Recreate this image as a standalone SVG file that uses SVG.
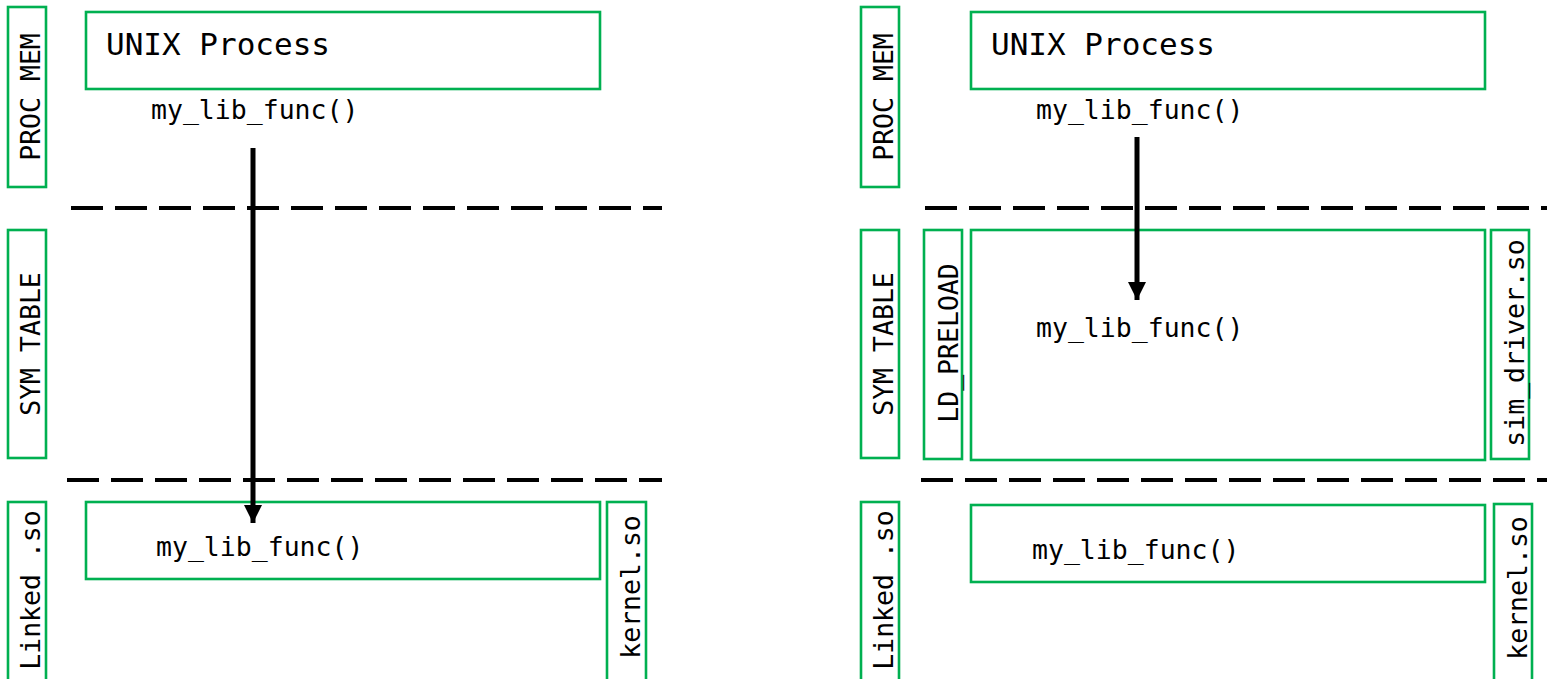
<svg xmlns="http://www.w3.org/2000/svg" width="1547" height="679" viewBox="0 0 1547 679">
  <style>
    .box { fill: none; stroke: #00b050; stroke-width: 2.6; }
    .lbl { font-family: "DejaVu Sans Mono", "Liberation Mono", monospace; font-size: 26.5px; fill: #000; }
    .big { font-size: 31px; }
    .vert { text-anchor: middle; }
    .sep { stroke: #000; stroke-width: 4; stroke-dasharray: 32 12; fill: none; }
    .arrow { stroke: #000; stroke-width: 5; fill: none; marker-end: url(#head); }
  </style>
  <defs>
    <marker id="head" markerUnits="userSpaceOnUse" markerWidth="20" markerHeight="18" refX="18" refY="9" orient="auto">
      <path d="M0,0 L18,9 L0,18 z" fill="#000"/>
    </marker>
  </defs>

  <rect width="1547" height="679" fill="#fff"/>

  <!-- Left: normal linking -->
  <g id="left-proc-mem">
    <rect class="box" x="8" y="7" width="38" height="180"/>
    <text class="lbl vert" transform="translate(40,97) rotate(-90)">PROC MEM</text>
  </g>
  <g id="left-sym-table">
    <rect class="box" x="8" y="230" width="38" height="228"/>
    <text class="lbl vert" transform="translate(40,344) rotate(-90)">SYM TABLE</text>
  </g>
  <g id="left-linked-so">
    <rect class="box" x="8" y="502" width="38" height="180"/>
    <text class="lbl vert" transform="translate(39.5,590) rotate(-90)">Linked .so</text>
  </g>
  <g id="left-unix-process">
    <rect class="box" x="86" y="12" width="514" height="77"/>
    <text class="lbl big" x="106" y="55">UNIX Process</text>
    <text class="lbl" x="151" y="119">my_lib_func()</text>
  </g>
  <g id="left-lib">
    <rect class="box" x="86" y="502" width="514" height="77"/>
    <text class="lbl" x="156" y="556">my_lib_func()</text>
  </g>
  <g id="left-kernel">
    <rect class="box" x="607" y="502" width="39" height="180"/>
    <text class="lbl vert" transform="translate(640,587) rotate(-90)">kernel.so</text>
  </g>

  <!-- Right: LD_PRELOAD interposition -->
  <g id="right-proc-mem">
    <rect class="box" x="861" y="7" width="38" height="180"/>
    <text class="lbl vert" transform="translate(893,97) rotate(-90)">PROC MEM</text>
  </g>
  <g id="right-sym-table">
    <rect class="box" x="861" y="230" width="38" height="228"/>
    <text class="lbl vert" transform="translate(893,344) rotate(-90)">SYM TABLE</text>
  </g>
  <g id="right-linked-so">
    <rect class="box" x="861" y="502" width="38" height="180"/>
    <text class="lbl vert" transform="translate(892.5,590) rotate(-90)">Linked .so</text>
  </g>
  <g id="right-unix-process">
    <rect class="box" x="971" y="12" width="514" height="77"/>
    <text class="lbl big" x="991" y="55">UNIX Process</text>
    <text class="lbl" x="1036" y="119">my_lib_func()</text>
  </g>
  <g id="right-ld-preload">
    <rect class="box" x="924" y="230" width="38" height="229"/>
    <text class="lbl vert" transform="translate(957.5,343) rotate(-90)">LD_PRELOAD</text>
  </g>
  <g id="right-preload-lib">
    <rect class="box" x="971" y="230" width="514" height="230"/>
    <text class="lbl" x="1036" y="337">my_lib_func()</text>
  </g>
  <g id="right-sim-driver">
    <rect class="box" x="1491" y="230" width="38" height="229"/>
    <text class="lbl vert" transform="translate(1523.5,343) rotate(-90)">sim_driver.so</text>
  </g>
  <g id="right-lib">
    <rect class="box" x="971" y="505" width="514" height="77"/>
    <text class="lbl" x="1032" y="559">my_lib_func()</text>
  </g>
  <g id="right-kernel">
    <rect class="box" x="1494" y="504" width="38" height="180"/>
    <text class="lbl vert" transform="translate(1527,588) rotate(-90)">kernel.so</text>
  </g>

  <!-- Layer separators and call paths -->
  <g id="connectors">
    <line class="sep" x1="71" y1="208" x2="662" y2="208"/>
    <line class="sep" x1="67" y1="480" x2="662" y2="480"/>
    <line class="sep" x1="925" y1="208" x2="1547" y2="208"/>
    <line class="sep" x1="921" y1="480" x2="1547" y2="480"/>
    <line class="arrow" x1="253" y1="148" x2="253" y2="523"/>
    <line class="arrow" x1="1137" y1="137" x2="1137" y2="300"/>
  </g>
</svg>
